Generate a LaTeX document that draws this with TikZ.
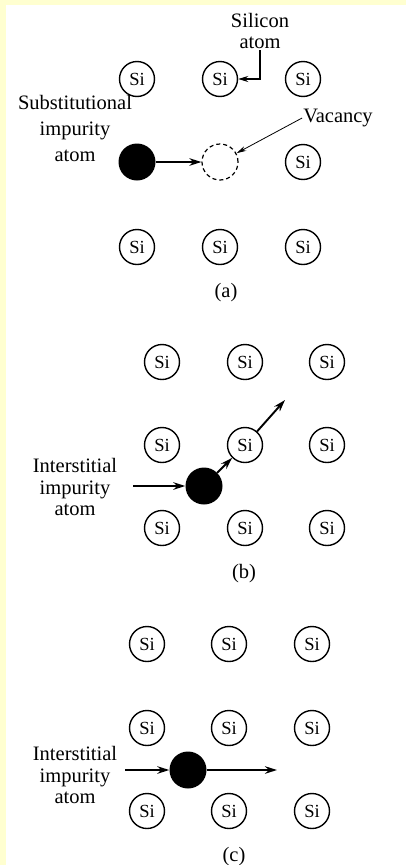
\documentclass[tikz,border=0pt]{standalone}
\usepackage{fontspec}
\setmainfont{Liberation Serif}
\usetikzlibrary{arrows.meta}
\definecolor{bgyellow}{RGB}{255,255,208}

\begin{document}
\begin{tikzpicture}[x=1pt, y=-1pt]
        \tikzstyle{si}=[circle, draw, line width=1.4pt, minimum size=35pt, inner sep=0pt, font=\fontsize{18.5}{18.5}\selectfont]
        \tikzstyle{impurity}=[circle, fill=black, minimum size=37pt, inner sep=0pt]
        \tikzstyle{hole}=[circle, draw, dash pattern=on 4pt off 3pt, line width=1.2pt, minimum size=36pt, inner sep=0pt]
        \tikzstyle{txt}=[align=center, inner sep=1pt, font=\fontsize{20.5}{21.5}\selectfont]
        \tikzstyle{move}=[-{Stealth[length=12pt, width=7.5pt]}, line width=1.9pt]

        \fill[bgyellow] (0,0) rectangle (406,865);
        \fill[white] (6,5) rectangle (406,865);
        \useasboundingbox (0,0) rectangle (406,865);

        \node[si] (a1) at (137,79) {Si};
        \node[si] (a2) at (220,79) {Si};
        \node[si] (a3) at (303,79) {Si};
        \node[impurity] (aimp) at (137,162) {};
        \node[hole] (avac) at (220,162) {};
        \node[si] (a6) at (303,162) {Si};
        \node[si] (a7) at (137,247) {Si};
        \node[si] (a8) at (220,247) {Si};
        \node[si] (a9) at (303,247) {Si};

        \node[txt] (silicon) at (260,31) {Silicon\\atom};
        \node[txt] (vacancy) at (338,118) {Vacancy};
        \node[txt, font=\fontsize{20.5}{26}\selectfont] (subst) at (75,128) {Substitutional\\impurity\\atom};
        \node[txt] (capa) at (226,293) {(a)};

        \draw[-{Stealth[length=10pt, width=6pt]}, line width=1.6pt] (silicon.south) |- (a2.east);
        \draw[-{Stealth[length=10pt, width=5pt]}, line width=0.8pt] (vacancy.west) -- (avac.28);
        \draw[move, line width=2.8pt] (aimp) -- (avac);

        \node[si] (b1) at (162,362) {Si};
        \node[si] (b2) at (245,362) {Si};
        \node[si] (b3) at (327,362) {Si};
        \node[si] (b4) at (162,445) {Si};
        \node[si] (b5) at (245,445) {Si};
        \node[si] (b6) at (327,445) {Si};
        \node[si] (b7) at (162,528) {Si};
        \node[si] (b8) at (245,528) {Si};
        \node[si] (b9) at (327,528) {Si};
        \node[impurity] (bimp) at (204,486) {};

        \node[txt] (interb) at (75,487) {Interstitial\\impurity\\atom};
        \node[txt] (capb) at (244,574) {(b)};
        \coordinate (bin) at (133,486);
        \coordinate (bout) at (285,400);

        \draw[move] (bin) -- (bimp);
        \draw[move] (bimp) -- (b5);
        \draw[move] (b5) -- (bout);

        \node[si] (c1) at (147,644) {Si};
        \node[si] (c2) at (229,644) {Si};
        \node[si] (c3) at (312,644) {Si};
        \node[si] (c4) at (147,728) {Si};
        \node[si] (c5) at (229,728) {Si};
        \node[si] (c6) at (312,728) {Si};
        \node[si] (c7) at (147,811) {Si};
        \node[si] (c8) at (229,811) {Si};
        \node[si] (c9) at (312,811) {Si};
        \node[impurity] (cimp) at (188,770) {};

        \node[txt] (interc) at (75,775) {Interstitial\\impurity\\atom};
        \node[txt] (capc) at (234,857) {(c)};
        \coordinate (cin) at (125,770);
        \coordinate (cout) at (277,770);

        \draw[move] (cin) -- (cimp);
        \draw[move] (cimp) -- (cout);
    \end{tikzpicture}
\end{document}
